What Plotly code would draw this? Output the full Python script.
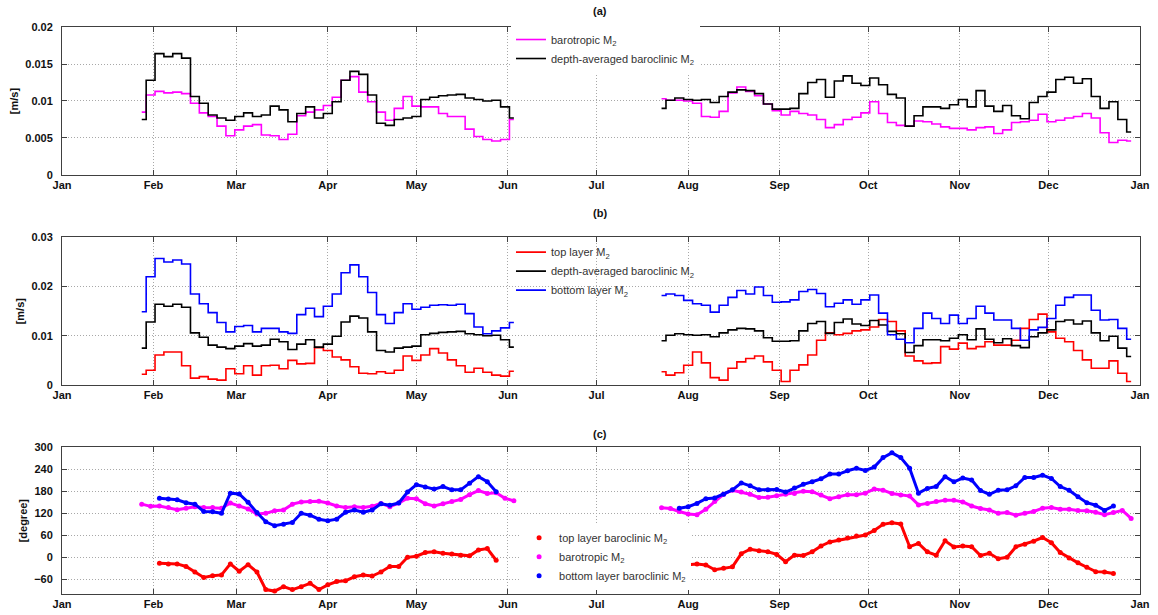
import plotly.graph_objects as go
import pandas as pd

# ---------------- sampling dates (two observation periods) ----------------
dates_p1 = list(pd.date_range("2010-01-28", "2010-06-03", freq="3D"))
dates_p2 = list(pd.date_range("2010-07-23", "2010-12-29", freq="3D"))
gap_date = pd.Timestamp("2010-07-01")

month_ticks = ["2010-01-01", "2010-02-01", "2010-03-01", "2010-04-01", "2010-05-01", "2010-06-01",
               "2010-07-01", "2010-08-01", "2010-09-01", "2010-10-01", "2010-11-01", "2010-12-01",
               "2011-01-01"]
month_labels = ["Jan", "Feb", "Mar", "Apr", "May", "Jun", "Jul", "Aug", "Sep", "Oct", "Nov", "Dec", "Jan"]

# ---------------- amplitudes [m/s] ----------------
barotropic_p1 = [0.0085, 0.0108, 0.0113, 0.0111, 0.0112, 0.0110, 0.0097, 0.0084, 0.0079, 0.0066,
                 0.0053, 0.0061, 0.0066, 0.0068, 0.0054, 0.0053, 0.0048, 0.0055, 0.0080, 0.0085,
                 0.0088, 0.0094, 0.0105, 0.0128, 0.0133, 0.0112, 0.0099, 0.0085, 0.0074, 0.0090,
                 0.0106, 0.0093, 0.0092, 0.0092, 0.0083, 0.0079, 0.0079, 0.0062, 0.0052, 0.0048,
                 0.0046, 0.0048, 0.0075]
barotropic_p2 = [0.0103, 0.0101, 0.0101, 0.0100, 0.0097, 0.0079, 0.0078, 0.0086, 0.0111, 0.0119,
                 0.0113, 0.0107, 0.0096, 0.0087, 0.0081, 0.0086, 0.0083, 0.0081, 0.0075, 0.0064,
                 0.0068, 0.0075, 0.0078, 0.0084, 0.0099, 0.0083, 0.0071, 0.0067, 0.0066, 0.0073,
                 0.0072, 0.0069, 0.0065, 0.0063, 0.0063, 0.0061, 0.0064, 0.0065, 0.0056, 0.0061,
                 0.0071, 0.0072, 0.0074, 0.0082, 0.0072, 0.0074, 0.0077, 0.0079, 0.0083, 0.0077,
                 0.0057, 0.0044, 0.0047, 0.0046]

baroclinic_p1 = [0.0075, 0.0128, 0.0164, 0.0160, 0.0164, 0.0158, 0.0106, 0.0097, 0.0081, 0.0077,
                 0.0074, 0.0079, 0.0084, 0.0079, 0.0081, 0.0093, 0.0088, 0.0072, 0.0083, 0.0092,
                 0.0077, 0.0083, 0.0099, 0.0128, 0.0140, 0.0136, 0.0108, 0.0070, 0.0067, 0.0075,
                 0.0077, 0.0079, 0.0102, 0.0105, 0.0107, 0.0108, 0.0109, 0.0104, 0.0102, 0.0100,
                 0.0101, 0.0092, 0.0077]
baroclinic_p2 = [0.0090, 0.0101, 0.0104, 0.0102, 0.0101, 0.0102, 0.0098, 0.0106, 0.0112, 0.0115,
                 0.0114, 0.0110, 0.0096, 0.0089, 0.0089, 0.0090, 0.0110, 0.0125, 0.0129, 0.0105,
                 0.0127, 0.0134, 0.0124, 0.0121, 0.0131, 0.0122, 0.0109, 0.0104, 0.0066, 0.0080,
                 0.0092, 0.0092, 0.0090, 0.0095, 0.0102, 0.0092, 0.0114, 0.0093, 0.0086, 0.0094,
                 0.0080, 0.0076, 0.0098, 0.0106, 0.0112, 0.0129, 0.0132, 0.0124, 0.0130, 0.0106,
                 0.0090, 0.0099, 0.0075, 0.0058]

bottom_p1 = [0.0149, 0.0220, 0.0257, 0.0250, 0.0254, 0.0246, 0.0185, 0.0165, 0.0147, 0.0127,
             0.0108, 0.0119, 0.0121, 0.0108, 0.0115, 0.0115, 0.0108, 0.0105, 0.0143, 0.0156,
             0.0139, 0.0160, 0.0185, 0.0228, 0.0244, 0.0220, 0.0188, 0.0143, 0.0125, 0.0147,
             0.0165, 0.0154, 0.0158, 0.0162, 0.0163, 0.0162, 0.0164, 0.0145, 0.0118, 0.0104,
             0.0110, 0.0116, 0.0127]
bottom_p2 = [0.0182, 0.0185, 0.0182, 0.0172, 0.0165, 0.0162, 0.0148, 0.0162, 0.0178, 0.0192,
             0.0185, 0.0199, 0.0182, 0.0168, 0.0169, 0.0173, 0.0190, 0.0194, 0.0186, 0.0159,
             0.0166, 0.0173, 0.0164, 0.0173, 0.0183, 0.0146, 0.0102, 0.0093, 0.0086, 0.0115,
             0.0146, 0.0135, 0.0125, 0.0142, 0.0125, 0.0135, 0.0160, 0.0146, 0.0132, 0.0132,
             0.0115, 0.0091, 0.0112, 0.0117, 0.0135, 0.0162, 0.0178, 0.0183, 0.0183, 0.0152,
             0.0132, 0.0133, 0.0115, 0.0093]

top_p1 = [0.0022, 0.0030, 0.0061, 0.0067, 0.0067, 0.0039, 0.0014, 0.0017, 0.0012, 0.0010,
          0.0033, 0.0023, 0.0039, 0.0020, 0.0039, 0.0040, 0.0033, 0.0050, 0.0043, 0.0044,
          0.0076, 0.0070, 0.0057, 0.0051, 0.0037, 0.0024, 0.0023, 0.0027, 0.0024, 0.0030,
          0.0059, 0.0050, 0.0061, 0.0074, 0.0065, 0.0051, 0.0039, 0.0026, 0.0034, 0.0026,
          0.0020, 0.0018, 0.0028]
top_p2 = [0.0027, 0.0020, 0.0025, 0.0040, 0.0067, 0.0045, 0.0015, 0.0010, 0.0034, 0.0047,
          0.0054, 0.0059, 0.0047, 0.0030, 0.0007, 0.0030, 0.0041, 0.0061, 0.0091, 0.0106,
          0.0102, 0.0105, 0.0110, 0.0112, 0.0118, 0.0133, 0.0129, 0.0110, 0.0059, 0.0049,
          0.0044, 0.0045, 0.0078, 0.0073, 0.0085, 0.0074, 0.0078, 0.0088, 0.0081, 0.0081,
          0.0091, 0.0115, 0.0133, 0.0144, 0.0108, 0.0095, 0.0088, 0.0070, 0.0051, 0.0034,
          0.0034, 0.0049, 0.0024, 0.0007]

# ---------------- phases [degree] ----------------
phase_barotropic_p1 = [145, 139, 140, 136, 130, 134, 138, 136, 136, 134,
                       148, 140, 132, 118, 120, 127, 129, 145, 151, 152,
                       153, 148, 140, 136, 138, 136, 139, 147, 138, 148,
                       161, 160, 146, 140, 146, 152, 158, 171, 182, 174,
                       176, 161, 154]
phase_barotropic_p2 = [135, 133, 125, 118, 116, 131, 152, 172, 183, 178,
                       172, 163, 164, 168, 172, 174, 180, 179, 170, 160,
                       165, 171, 171, 175, 186, 183, 174, 170, 167, 143,
                       147, 152, 156, 156, 151, 140, 133, 129, 120, 122,
                       115, 120, 125, 134, 136, 131, 131, 128, 127, 123,
                       116, 122, 128, 106]
phase_bottom_p1 = [None, None, 161, 159, 157, 149, 145, 125, 124, 120,
                   175, 173, 150, 122, 97, 86, 90, 95, 120, 115,
                   104, 100, 104, 123, 129, 123, 129, 146, 142, 148,
                   178, 198, 192, 186, 193, 184, 184, 202, 220, 206,
                   179, None, None]
phase_bottom_p2 = [None, None, 134, 138, 147, 160, 162, 172, 184, 203,
                   195, 184, 184, 185, 178, 189, 199, 206, 214, 227,
                   227, 236, 243, 237, 246, 272, 285, 272, 243, 175,
                   188, 193, 220, 206, 216, 211, 182, 172, 183, 184,
                   195, 218, 218, 224, 215, 193, 183, 165, 149, 142,
                   128, 140, None, None]
phase_top_p1 = [None, None, -16, -18, -18, -25, -40, -55, -50, -48,
                -18, -38, -20, -40, -88, -92, -80, -88, -80, -71,
                -88, -75, -66, -64, -53, -48, -51, -40, -25, -25,
                0, 3, 13, 15, 11, 9, 6, 4, 20, 24,
                -8, None, None]
phase_top_p2 = [None, None, -42, -20, -18, -21, -34, -30, -26, 10,
                22, 18, 15, 8, -12, 6, 5, 15, 31, 42,
                47, 53, 58, 61, 73, 90, 94, 91, 29, 38,
                15, 6, 45, 28, 31, 29, 5, 11, -4, 0,
                29, 36, 44, 54, 40, 13, -2, -15, -27, -39,
                -40, -44, None, None]

X_ALL = dates_p1 + [gap_date] + dates_p2


def joined(a, b):
    return list(a) + [None] + list(b)


MAG, BLK, RED, BLU = "#ff00ff", "#000000", "#ff0000", "#0000ff"
FONT = "Liberation Sans, Arial, Helvetica, sans-serif"

fig = go.Figure()


def add_line(y, color, name, xa, ya, legend):
    fig.add_trace(go.Scatter(x=X_ALL, y=y, mode="lines", line=dict(color=color, width=1.6, shape="hvh"),
                             name=name, xaxis=xa, yaxis=ya, legend=legend, connectgaps=False))


def add_dots(y, color, name, legend):
    # dense dotted band: connecting band (no legend entry) + the dots themselves
    fig.add_trace(go.Scatter(x=X_ALL, y=y, mode="lines", line=dict(color=color, width=3),
                             showlegend=False, hoverinfo="skip", xaxis="x3", yaxis="y3", connectgaps=False))
    fig.add_trace(go.Scatter(x=X_ALL, y=y, mode="markers", marker=dict(color=color, size=5, line=dict(width=0)),
                             name=name, xaxis="x3", yaxis="y3", legend=legend))


# panel (a)
add_line(joined(barotropic_p1, barotropic_p2), MAG, "barotropic M<sub>2</sub>", "x", "y", "legend")
add_line(joined(baroclinic_p1, baroclinic_p2), BLK, "depth-averaged baroclinic M<sub>2</sub>", "x", "y", "legend")
# panel (b)
add_line(joined(top_p1, top_p2), RED, "top layer M<sub>2</sub>", "x2", "y2", "legend2")
add_line(joined(baroclinic_p1, baroclinic_p2), BLK, "depth-averaged baroclinic M<sub>2</sub>", "x2", "y2", "legend2")
add_line(joined(bottom_p1, bottom_p2), BLU, "bottom layer M<sub>2</sub>", "x2", "y2", "legend2")
# panel (c)
add_dots(joined(phase_top_p1, phase_top_p2), RED, "top layer baroclinic M<sub>2</sub>", "legend3")
add_dots(joined(phase_barotropic_p1, phase_barotropic_p2), MAG, "barotropic M<sub>2</sub>", "legend3")
add_dots(joined(phase_bottom_p1, phase_bottom_p2), BLU, "bottom layer baroclinic M<sub>2</sub>", "legend3")

tickfont = dict(family=FONT, size=11, color="#111111", weight="bold")
common = dict(showline=True, linecolor="#404040", linewidth=1, mirror="ticks", ticks="inside",
              ticklen=5, tickcolor="#404040", showgrid=True, gridcolor="#a8a8a8", griddash="1px,2px",
              gridwidth=1, zeroline=False, tickfont=tickfont, automargin=False)

xcommon = dict(common, type="date", range=["2010-01-01", "2011-01-01"], tickmode="array",
               tickvals=month_ticks, ticktext=month_labels)

doms = {"a": [0.739, 1.0], "b": [0.3686, 0.629], "c": [0.0, 0.2587]}
ytitle_font = dict(family=FONT, size=11, weight="bold", color="#111111")
legend_font = dict(family=FONT, size=11, color="#333333")

fig.update_layout(
    width=1158, height=615,
    margin=dict(l=62, r=18, t=27, b=21, autoexpand=False),
    paper_bgcolor="white", plot_bgcolor="white",
    font=dict(family=FONT, color="#111111"),
    xaxis=dict(xcommon, anchor="y", domain=[0, 1]),
    xaxis2=dict(xcommon, anchor="y2", domain=[0, 1]),
    xaxis3=dict(xcommon, anchor="y3", domain=[0, 1]),
    yaxis=dict(common, anchor="x", domain=doms["a"], range=[0, 0.02], tickmode="array",
               tickvals=[0, 0.005, 0.01, 0.015, 0.02], ticktext=["0", "0.005", "0.01", "0.015", "0.02"],
               ticklabelstandoff=6, title=dict(text="[m/s]", font=ytitle_font, standoff=4)),
    yaxis2=dict(common, anchor="x2", domain=doms["b"], range=[0, 0.03], tickmode="array",
                tickvals=[0, 0.01, 0.02, 0.03], ticktext=["0", "0.01", "0.02", "0.03"],
                ticklabelstandoff=6, title=dict(text="[m/s]", font=ytitle_font, standoff=4)),
    yaxis3=dict(common, anchor="x3", domain=doms["c"], range=[-100, 300], tickmode="array",
                tickvals=[-60, 0, 60, 120, 180, 240, 300], ticklabelstandoff=6,
                title=dict(text="[degree]", font=ytitle_font, standoff=4)),
    legend=dict(x=0.4165, y=1.0035, xanchor="left", yanchor="top", bgcolor="white", borderwidth=0,
                font=legend_font, tracegroupgap=0),
    legend2=dict(x=0.4165, y=0.6286, xanchor="left", yanchor="top", bgcolor="rgba(0,0,0,0)", borderwidth=0,
                 font=legend_font, tracegroupgap=0),
    legend3=dict(x=0.424, y=0.1250, xanchor="left", yanchor="top", bgcolor="white", borderwidth=0,
                 font=legend_font, tracegroupgap=0),
    annotations=[
        dict(text="<b>(a)</b>", x=0.499, y=1.0282, xref="paper", yref="paper", showarrow=False,
             xanchor="center", yanchor="middle", font=dict(family=FONT, size=11, color="#111111")),
        dict(text="<b>(b)</b>", x=0.499, y=0.6720, xref="paper", yref="paper", showarrow=False,
             xanchor="center", yanchor="middle", font=dict(family=FONT, size=11, color="#111111")),
        dict(text="<b>(c)</b>", x=0.499, y=0.2822, xref="paper", yref="paper", showarrow=False,
             xanchor="center", yanchor="middle", font=dict(family=FONT, size=11, color="#111111")),
    ],
)

fig.write_html("out.html")
